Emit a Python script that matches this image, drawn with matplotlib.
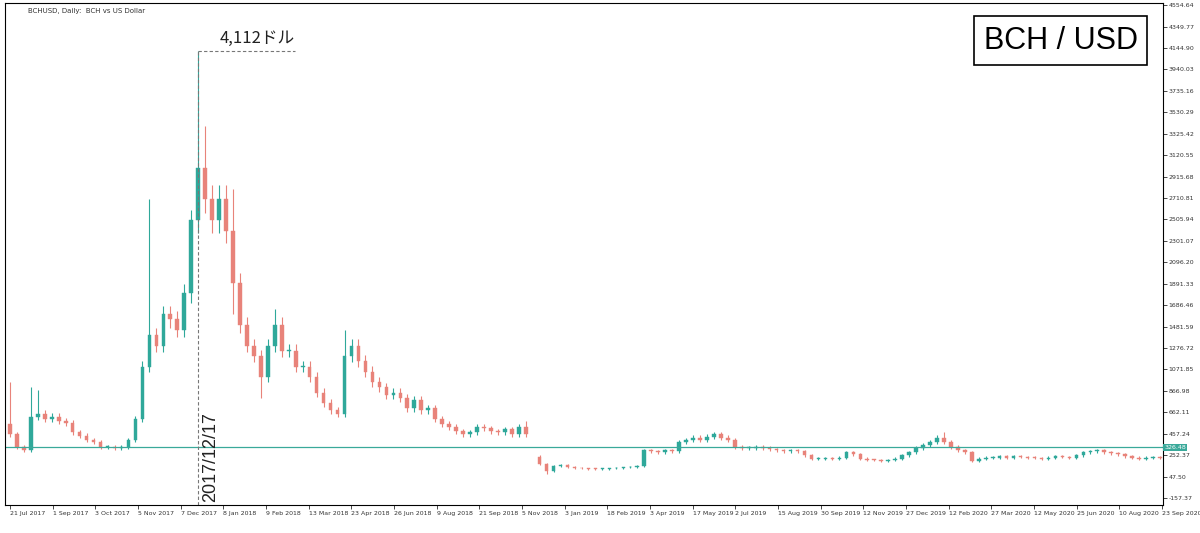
import numpy as np
import matplotlib
matplotlib.use("Agg")
import matplotlib.pyplot as plt
from matplotlib.patches import Rectangle

closes = [450,330,300,620,650,600,620,580,560,470,440,400,380,330,330,320,330,400,600,1100,
          1400,1300,1600,1550,1450,1800,2500,3000,2700,2500,2700,2400,1900,1500,1300,1200,1000,1300,1500,
          1250,1250,1100,1100,1000,850,750,680,650,1200,1300,1150,1050,950,900,830,850,800,700,780,
          680,700,600,550,520,480,450,470,520,510,480,470,500,450,520,450,np.nan,170,100,150,
          160,140,130,125,120,118,120,125,130,135,140,150,300,290,280,300,290,380,400,420,
          400,430,450,420,400,330,320,320,330,320,310,300,290,300,290,250,220,220,225,220,
          230,280,260,220,210,205,200,210,220,250,280,320,350,380,420,380,330,300,280,200,
          220,230,230,240,230,240,235,230,225,220,230,240,235,230,250,280,290,300,280,270,
          260,240,230,220,230,230,225]
first_open = 550
high_override = {0: 950, 3: 900, 4: 880, 20: 2700, 26: 2600, 27: 4112, 28: 3400, 32: 2800, 38: 1650,
                 48: 1450, 74: 580, 134: 470}
low_override = {36: 800, 77: 75, 32: 1600}
tick_labels = ["21 Jul 2017","1 Sep 2017","3 Oct 2017","5 Nov 2017","7 Dec 2017","8 Jan 2018","9 Feb 2018",
               "13 Mar 2018","23 Apr 2018","26 Jun 2018","9 Aug 2018","21 Sep 2018","5 Nov 2018","3 Jan 2019",
               "18 Feb 2019","3 Apr 2019","17 May 2019","2 Jul 2019","15 Aug 2019","30 Sep 2019","12 Nov 2019",
               "27 Dec 2019","12 Feb 2020","27 Mar 2020","12 May 2020","25 Jun 2020","10 Aug 2020","23 Sep 2020"]
ytick_vals = [4554.64,4349.77,4144.90,3940.03,3735.16,3530.29,3325.42,3120.55,2915.68,2710.81,2505.94,
              2301.07,2096.20,1891.33,1686.46,1481.59,1276.72,1071.85,866.98,662.11,457.24,252.37,47.50,-157.37]
current_price = 326.48
peak_price = 4112
peak_index = 27

UP = "#2fa89a"; DN = "#e8837a"
fig = plt.figure(figsize=(12, 5.33), dpi=100)
ax = fig.add_axes([5/1200, 28/533, 1158/1200, 502/533])
ax.set_xlim(-5, 1158)
ax.set_ylim(-224, 4575)

prev = first_open
for k, c in enumerate(closes):
    x = 7 * k
    if np.isnan(c):
        prev = None
        continue
    o = prev if prev is not None else c * 1.4
    hi = high_override.get(k, max(o, c) * 1.05)
    lo = low_override.get(k, min(o, c) * 0.95)
    col = UP if c >= o else DN
    ax.vlines(x, lo, hi, color=col, lw=0.8)
    b = max(abs(c - o), 8)
    ax.add_patch(Rectangle((x - 1.8, min(o, c)), 3.6, b, facecolor=col, edgecolor=col, lw=0.3))
    prev = c

ax.axhline(current_price, color="#3aa99a", lw=0.9)
px = 7 * peak_index
ax.plot([px, px + 97], [peak_price, peak_price], ls=(0, (3, 2)), color="#777", lw=0.8)
ax.plot([px, px], [-224, peak_price], ls=(0, (3, 2)), color="#777", lw=0.8)
ax.text(px + 22, peak_price + 40, "4,112ドル", fontsize=12, family=["Noto Sans CJK JP", "DejaVu Sans"],
        va="bottom", color="#222")
ax.text(px + 4, -200, "2017/12/17", rotation=90, fontsize=13, va="bottom", ha="left", color="#222",
        family="Liberation Sans")
ax.text(0.978, 0.955, "BCH / USD", transform=ax.transAxes, ha="right", va="top", fontsize=22,
        family="Liberation Sans",
        bbox=dict(boxstyle="square,pad=0.3", fc="white", ec="black", lw=1.2))
ax.text(0.02, 0.99, "BCHUSD, Daily:  BCH vs US Dollar", transform=ax.transAxes, ha="left", va="top",
        fontsize=5, color="#333")

ax.yaxis.tick_right()
ax.set_yticks(ytick_vals)
ax.set_yticklabels([f"{v:.2f}" for v in ytick_vals], fontsize=4.5, color="#333")
ax.tick_params(axis="y", length=3, width=0.5, pad=1)
ticks = [42.85 * i for i in range(len(tick_labels))]
ax.set_xticks(ticks)
ax.set_xticklabels(tick_labels, fontsize=4.5, ha="left", color="#333")
ax.tick_params(axis="x", length=3, width=0.5, pad=1)
ax.text(1.001, current_price, f"{current_price:.2f}", transform=ax.get_yaxis_transform(), fontsize=4.5,
        color="white", va="center", ha="left",
        bbox=dict(boxstyle="square,pad=0.2", fc="#3aa99a", ec="none"))
for s in ax.spines.values():
    s.set_linewidth(0.8)
fig.savefig("out.png", dpi=100)
